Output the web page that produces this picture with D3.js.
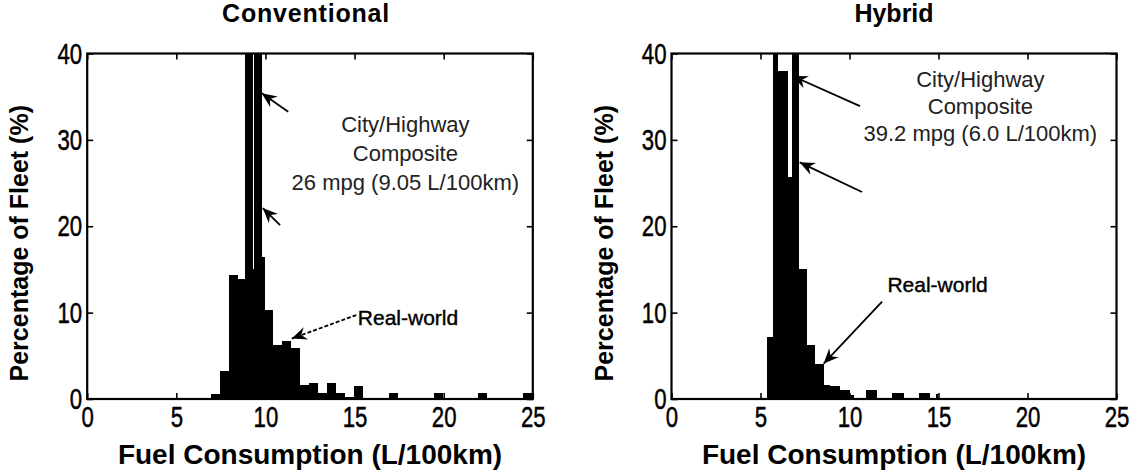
<!DOCTYPE html>
<html>
<head>
<meta charset="utf-8">
<script src="https://cdn.jsdelivr.net/npm/d3@7"></script>
<style>
  body { margin: 0; background: #fff; }
  text { font-family: "Liberation Sans", Arial, sans-serif; }
</style>
</head>
<body>
<svg id="chart" width="1138" height="471"></svg>
<script>
const xTicks = [0, 5, 10, 15, 20, 25];
const yTicks = [0, 10, 20, 30, 40];

// conventional fleet, real-world fuel consumption histogram (L/100km, % of fleet)
const convRealEdges = [6.95, 7.45, 7.95, 8.45, 8.95, 9.45, 9.95, 10.45, 10.95, 11.45, 11.95,
  12.45, 12.95, 13.45, 13.95, 14.45, 14.95, 15.45, 15.95, 16.45, 16.95, 17.45, 17.95,
  18.45, 18.95, 19.45, 19.95, 20.45, 20.95, 21.45, 21.95, 22.45, 22.95, 23.45, 23.95,
  24.45, 24.95];
const convRealPct = [0.6, 3.2, 14.3, 13.9, 15.1, 16.4, 10.3, 6.2, 6.7, 5.9, 1.6,
  1.9, 0.7, 1.9, 0.7, 0.2, 1.5, 0.1, 0.1, 0, 0.7, 0, 0,
  0, 0, 0.7, 0, 0, 0, 0, 0.7, 0, 0, 0, 0,
  0.7];
// city/highway composite, runs off the top of the axis
const convCompEdges = [8.86, 9.315, 9.36, 9.79];
const convCompPct = [48, 0, 44];

// hybrid fleet
const hybRealEdges = [5.35, 5.72, 6.0, 6.56, 6.79, 7.19, 7.6, 8.07, 8.54, 8.91, 9.48,
  10.0, 10.25, 10.95, 11.54, 12.38, 13.04, 13.88, 14.54, 14.85, 14.95, 16.4, 16.6];
const hybRealPct = [7.2, 25, 38, 25.7, 25, 15.1, 6.3, 4.1, 1.6, 1.45, 1.06,
  0.5, 0, 1.06, 0, 0.7, 0, 0.7, 0, 0.6, 0, 0.15];
const hybCompEdges = [5.72, 6.0, 6.79, 7.19];
const hybCompPct = [46, 0, 44];

const panels = [
  {
    title: "Conventional",
    range: [87.2, 532.8],
    real: [convRealEdges, convRealPct],
    comp: [convCompEdges, convCompPct],
    compText: ["City/Highway", "Composite", "26 mpg (9.05 L/100km)"],
    compTextAt: [17.85, 30.95], compLine: 29,
    compArrows: [[[11.28, 33.25], [9.79, 35.4]], [[10.82, 20.14], [9.85, 22.1]]],
    realText: "Real-world", realTextAt: [18.0, 8.6],
    realArrow: [[15.1, 9.72], [11.48, 7.0]], realDashed: true
  },
  {
    title: "Hybrid",
    range: [671.5, 1116.5],
    real: [hybRealEdges, hybRealPct],
    comp: [hybCompEdges, hybCompPct],
    compText: ["City/Highway", "Composite", "39.2 mpg (6.0 L/100km)"],
    compTextAt: [17.35, 36.15], compLine: 27,
    compArrows: [[[10.59, 33.9], [6.8, 37.4]], [[10.7, 23.96], [7.2, 27.4]]],
    realText: "Real-world", realTextAt: [14.95, 12.4],
    realArrow: [[11.83, 11.26], [8.55, 4.1]], realDashed: false
  }
];

const svg = d3.select("#chart");
const yRange = [399, 53.5];
const tickScale = 0.74;

svg.append("defs").append("marker")
  .attr("id", "head")
  .attr("markerUnits", "userSpaceOnUse")
  .attr("markerWidth", 20).attr("markerHeight", 20)
  .attr("refX", 0).attr("refY", 0)
  .attr("viewBox", "-16 -8 20 16")
  .attr("orient", "auto")
  .append("path")
  .attr("d", "M0,0 L-15,-6.5 L-10,0 L-15,6.5 Z")
  .attr("fill", "#000");

panels.forEach((p, i) => {
  const x = d3.scaleLinear().domain([0, 25]).range(p.range);
  const y = d3.scaleLinear().domain([0, 40]).range(yRange);
  const g = svg.append("g");

  const clipId = "clip" + i;
  svg.select("defs").append("clipPath").attr("id", clipId)
    .append("rect")
    .attr("x", p.range[0]).attr("y", yRange[1])
    .attr("width", p.range[1] - p.range[0]).attr("height", yRange[0] - yRange[1]);

  const bars = g.append("g").attr("clip-path", `url(#${clipId})`);
  [p.real, p.comp].forEach(([edges, vals]) => {
    const bins = vals.map((v, k) => ({ x0: edges[k], x1: edges[k + 1], v }))
      .filter(d => d.v > 0);
    bars.append("g").selectAll("rect")
      .data(bins)
      .join("rect")
      .attr("x", d => x(d.x0))
      .attr("width", d => x(d.x1) - x(d.x0))
      .attr("y", d => y(d.v))
      .attr("height", d => y(0) - y(d.v))
      .attr("fill", "#000")
      .attr("shape-rendering", "crispEdges");
  });

  // axes, ticks pointing inward
  const bottom = g.append("g").attr("transform", `translate(0,${yRange[0]})`)
    .call(d3.axisBottom(x).tickValues(xTicks).tickSizeInner(-6).tickSizeOuter(0).tickPadding(7));
  const left = g.append("g").attr("transform", `translate(${p.range[0]},0)`)
    .call(d3.axisLeft(y).tickValues(yTicks).tickSizeInner(-6).tickSizeOuter(0));
  g.append("g").attr("transform", `translate(0,${yRange[1]})`)
    .call(d3.axisTop(x).tickValues(xTicks).tickSizeInner(-6).tickSizeOuter(0).tickFormat(""));
  g.append("g").attr("transform", `translate(${p.range[1]},0)`)
    .call(d3.axisRight(y).tickValues(yTicks).tickSizeInner(-6).tickSizeOuter(0).tickFormat(""));

  g.selectAll(".domain").remove();
  g.selectAll(".tick line").attr("stroke", "#000").attr("stroke-width", 1.6);
  g.selectAll(".tick text").attr("fill", "#000").attr("font-size", 30)
    .attr("stroke", "#000").attr("stroke-width", 0.5)
    .attr("font-family", "'Liberation Sans', Arial, sans-serif");
  bottom.selectAll(".tick text").attr("transform", `scale(${tickScale},1)`);
  left.selectAll(".tick text")
    .attr("x", -5 / tickScale)
    .attr("transform", `scale(${tickScale},1)`);

  g.append("rect")
    .attr("x", p.range[0]).attr("y", yRange[1])
    .attr("width", p.range[1] - p.range[0]).attr("height", yRange[0] - yRange[1])
    .attr("fill", "none").attr("stroke", "#000").attr("stroke-width", 2.2);

  const cx = (p.range[0] + p.range[1]) / 2;
  g.append("text").attr("x", cx - (i === 0 ? 4 : 0)).attr("y", 22)
    .attr("text-anchor", "middle").attr("font-size", 25).attr("font-weight", "bold")
    .attr("letter-spacing", i === 0 ? 0.8 : 0)
    .text(p.title);
  g.append("text").attr("x", cx).attr("y", 464)
    .attr("text-anchor", "middle").attr("font-size", 28).attr("font-weight", "bold")
    .text("Fuel Consumption (L/100km)");
  g.append("text")
    .attr("transform", `translate(${p.range[0] - 59},${(yRange[0] + yRange[1]) / 2 + 17}) rotate(-90)`)
    .attr("text-anchor", "middle").attr("font-size", 25).attr("font-weight", "bold")
    .text("Percentage of Fleet (%)");

  // annotations
  const ann = g.append("g");
  p.compText.forEach((t, k) => {
    ann.append("text")
      .attr("x", x(p.compTextAt[0]))
      .attr("y", y(p.compTextAt[1]) + k * p.compLine)
      .attr("text-anchor", "middle").attr("font-size", 22).attr("fill", "#222")
      .text(t);
  });
  ann.append("text")
    .attr("x", x(p.realTextAt[0])).attr("y", y(p.realTextAt[1]))
    .attr("text-anchor", "middle").attr("font-size", 21).attr("fill", "#000")
    .attr("stroke", "#000").attr("stroke-width", 0.4)
    .text(p.realText);

  const arrows = p.compArrows.map(a => ({ a, dashed: false }))
    .concat([{ a: p.realArrow, dashed: p.realDashed }]);
  ann.selectAll("line.arrow")
    .data(arrows)
    .join("line")
    .attr("class", "arrow")
    .attr("x1", d => x(d.a[0][0])).attr("y1", d => y(d.a[0][1]))
    .attr("x2", d => x(d.a[1][0])).attr("y2", d => y(d.a[1][1]))
    .attr("stroke", "#000").attr("stroke-width", 1.8)
    .attr("stroke-dasharray", d => d.dashed ? "4,2" : null)
    .attr("marker-end", "url(#head)");
});
</script>
</body>
</html>
